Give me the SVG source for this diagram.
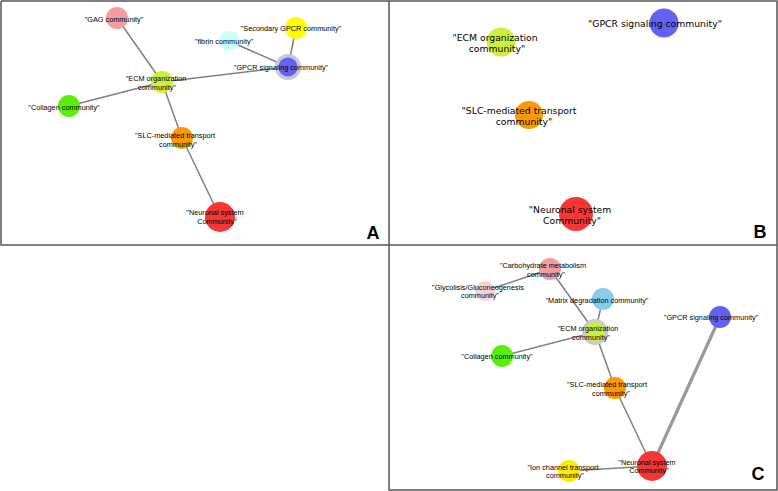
<svg xmlns="http://www.w3.org/2000/svg" width="778" height="491" viewBox="0 0 778 491">
<style>
.frame{fill:none;stroke:#555;stroke-width:1.5}
.e{stroke:#808080;stroke-width:1.5;fill:none}
.ethick{stroke:#999;stroke-width:3.2;fill:none}
.halo{fill:#c8c8d8}
.t{font-family:"Liberation Sans",Arial,sans-serif;font-size:7.3px;fill:#000;text-anchor:middle;dominant-baseline:central}
.tb{font-family:"DejaVu Sans",sans-serif;font-size:9.25px;fill:#000;text-anchor:middle;dominant-baseline:central}
.pl{font-family:"Liberation Sans",Arial,sans-serif;font-size:18px;font-weight:bold;fill:#000;text-anchor:middle}
.gag{fill:#f59c9c}.sec{fill:#ffff00}.fib{fill:#ccfcfc}.gpcr{fill:#6262f0}.ecm{fill:#ccf03c}
.col{fill:#5aee08}.slc{fill:#fa9a00}.neu{fill:#f83636}.gly{fill:#fdd0d0}.mat{fill:#88cce8}.ion{fill:#f8f000}
</style>
<rect width="778" height="491" fill="#fff"/>
<g id="frames">
<path class="frame" d="M1,1 H777 V490 H389 V1 M1,1 V245 H777"/>
</g>
<g id="connectors">
<!-- Panel A -->
<line class="e" x1="117" y1="18" x2="162" y2="82"/>
<line class="e" x1="69" y1="106" x2="162" y2="82"/>
<line class="e" x1="162" y1="82" x2="288" y2="67"/>
<line class="e" x1="162" y1="82" x2="182" y2="138"/>
<line class="e" x1="182" y1="138" x2="220" y2="217"/>
<line class="e" x1="229" y1="41" x2="288" y2="67"/>
<line class="e" x1="296" y1="28" x2="288" y2="67"/>
<!-- Panel C -->
<line class="e" x1="485" y1="291" x2="550" y2="269"/>
<line class="e" x1="550" y1="269" x2="595" y2="332"/>
<line class="e" x1="603" y1="299" x2="595" y2="332"/>
<line class="e" x1="502" y1="356" x2="595" y2="332"/>
<line class="e" x1="595" y1="332" x2="615" y2="388"/>
<line class="e" x1="615" y1="388" x2="652" y2="466"/>
<line class="e" x1="569" y1="471" x2="652" y2="466"/>
<line class="ethick" x1="652" y1="466" x2="720" y2="317"/>
</g>
<!-- Panel A nodes -->
<g id="A_gag"><circle class="gag" cx="117" cy="18" r="11"/><text class="t" x="114" y="19">"GAG community"</text></g>
<g id="A_secgpcr"><circle class="sec" cx="296" cy="28" r="11"/><text class="t" x="291" y="28">"Secondary GPCR community"</text></g>
<g id="A_fibrin"><circle class="fib" cx="229" cy="41" r="10"/><text class="t" x="224" y="41">"fibrin community"</text></g>
<g id="A_gpcr"><circle class="halo" cx="288" cy="67" r="13"/><circle class="gpcr" cx="288" cy="67" r="9.5"/><text class="t" x="281" y="67">"GPCR signaling community"</text></g>
<g id="A_ecm"><circle class="ecm" cx="162" cy="82" r="11"/><text class="t" x="156" y="78">"ECM organization</text><text class="t" x="157" y="87">community"</text></g>
<g id="A_collagen"><circle class="col" cx="69" cy="106" r="11"/><text class="t" x="64" y="107">"Collagen community"</text></g>
<g id="A_slc"><circle class="slc" cx="182" cy="138" r="11"/><text class="t" x="175" y="135">"SLC-mediated transport</text><text class="t" x="178" y="144">community"</text></g>
<g id="A_neuronal"><circle class="neu" cx="220" cy="217" r="15"/><text class="t" x="215" y="212">"Neuronal system</text><text class="t" x="217" y="221">Community"</text></g>
<text class="pl" x="373" y="239">A</text>
<!-- Panel B nodes -->
<g id="B_ecm"><circle class="ecm" cx="501" cy="42" r="14.5"/><text class="tb" x="495" y="37">"ECM organization</text><text class="tb" x="497" y="48">community"</text></g>
<g id="B_gpcr"><circle class="gpcr" cx="664" cy="23" r="14.5"/><text class="tb" x="655" y="23">"GPCR signaling community"</text></g>
<g id="B_slc"><circle class="slc" cx="529" cy="115" r="14"/><text class="tb" x="519" y="110">"SLC-mediated transport</text><text class="tb" x="524" y="121">community"</text></g>
<g id="B_neuronal"><circle class="neu" cx="576" cy="214" r="17"/><text class="tb" x="570" y="209">"Neuronal system</text><text class="tb" x="572" y="220">Community"</text></g>
<text class="pl" x="760" y="238">B</text>
<!-- Panel C nodes -->
<g id="C_carb"><circle class="gag" cx="550" cy="269" r="11"/><text class="t" x="543" y="265">"Carbohydrate metabolism</text><text class="t" x="546" y="274">community"</text></g>
<g id="C_gly"><circle class="gly" cx="485" cy="291" r="10"/><text class="t" x="478" y="287">"Glycolisis/Gluconeogenesis</text><text class="t" x="480" y="295">community"</text></g>
<g id="C_matrix"><circle class="mat" cx="603" cy="299" r="11"/><text class="t" x="597" y="300">"Matrix degradation community"</text></g>
<g id="C_gpcr"><circle class="gpcr" cx="720" cy="317" r="11"/><text class="t" x="711" y="317">"GPCR signaling community"</text></g>
<g id="C_ecm"><circle class="halo" cx="595" cy="332" r="13"/><circle class="ecm" cx="595" cy="332" r="10"/><text class="t" x="588" y="328">"ECM organization</text><text class="t" x="591" y="337">community"</text></g>
<g id="C_collagen"><circle class="col" cx="502" cy="356" r="11"/><text class="t" x="497" y="356">"Collagen community"</text></g>
<g id="C_slc"><circle class="slc" cx="615" cy="388" r="11"/><text class="t" x="607" y="384">"SLC-mediated transport</text><text class="t" x="611" y="393">community"</text></g>
<g id="C_ion"><circle class="ion" cx="569" cy="471" r="11"/><text class="t" x="563" y="467">"Ion channel transport</text><text class="t" x="565" y="475">community"</text></g>
<g id="C_neuronal"><circle class="neu" cx="652" cy="466" r="15"/><text class="t" x="647" y="462">"Neuronal system</text><text class="t" x="649" y="470">Community"</text></g>
<text class="pl" x="758" y="480">C</text>
</svg>
